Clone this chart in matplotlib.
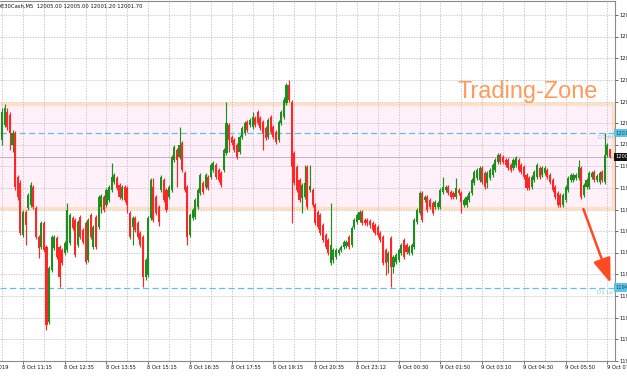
import matplotlib
matplotlib.use("Agg")
import matplotlib.pyplot as plt
import matplotlib.transforms as mtransforms
from matplotlib.patches import Rectangle
import numpy as np

# ---------------- data (DE30Cash, M5) ----------------
opens = [
12008.5,12014.5,12019.7,12018.5,12006.5,12011.3,11993.7,11991.3,11970.5,11979.7,
11981.3,11982.5,11989.7,11981.3,11969.7,11965.7,11975.3,11965.7,11935.7,11956.5,
11965.3,11969.3,11965.7,11964.5,11963.3,11964.5,11967.3,11977.3,11976.5,11966.5,
11977.7,11972.5,11975.3,11960.5,11978.5,11965.7,11977.7,11973.7,11981.7,11985.7,
11982.5,11984.5,11988.5,11991.7,11993.3,11990.5,11985.3,11989.7,11989.3,11979.3,
11973.7,11977.3,11975.3,11971.3,11969.7,11953.7,11954.5,11977.3,11989.7,11985.7,
11981.7,11988.5,11992.5,11988.5,11985.7,11988.5,12000.5,12004.5,12001.7,12007.3,
11995.3,11989.7,11970.5,11977.3,11977.7,11981.7,11987.3,11991.3,11989.7,11993.7,
11993.7,11996.5,11998.5,11996.5,11995.3,11996.5,12003.3,12014.5,12009.7,12008.5,
12006.5,12003.7,12009.7,12011.3,12015.7,12014.5,12013.7,12017.3,12019.7,12017.3,
12015.7,12013.3,12009.7,12017.7,12013.7,12011.7,12008.5,12015.3,12017.7,12023.3,
12030.5,12023.7,12003.3,11997.7,11992.5,11985.3,11985.7,11997.7,11988.5,11988.5,
11982.5,11979.7,11978.5,11974.5,11970.5,11968.5,11959.3,11960.5,11961.7,11963.3,
11964.5,11965.7,11966.1,11969.7,11966.5,11973.7,11975.7,11976.5,11979.7,11976.5,
11976.5,11976.1,11975.3,11974.5,11973.7,11971.3,11969.7,11964.5,11959.7,11969.3,
11957.7,11959.7,11960.5,11963.3,11968.5,11966.5,11963.3,11963.3,11965.7,11975.7,
11979.3,11987.3,11984.5,11985.7,11984.5,11983.3,11981.7,11981.7,11981.7,11987.7,
11988.5,11989.7,11987.7,11987.3,11985.7,11988.5,11987.3,11982.5,11982.5,11984.5,
11987.3,11991.3,11993.3,11992.5,11997.3,11995.3,11991.3,11993.3,11994.5,11996.5,
11999.7,12002.5,12001.7,12000.5,12000.5,11998.5,11997.3,11998.5,12000.5,11998.5,
11997.7,11994.5,11993.3,11989.7,11992.5,11993.7,11997.3,11994.5,11995.3,11996.5,
11994.5,11992.5,11989.7,11987.3,11986.5,11982.5,11984.5,11988.5,11992.5,11992.5,
11993.3,11993.3,11997.3,11986.5,11989.7,11989.7,11993.7,11995.7,11992.5,11991.7,
11995.7,11991.7,12002.5,12005.0]
highs = [
12021.3,12022.9,12021.3,12019.7,12012.5,12012.1,11994.5,11992.5,11980.5,11980.5,
11987.3,11991.7,11990.5,11982.1,11970.5,11976.1,11976.1,11966.5,11958.1,11970.5,
11970.5,11970.1,11966.5,11965.3,11968.1,11983.3,11979.3,11978.1,11977.3,11976.5,
11978.5,11973.3,11976.1,11977.3,11979.3,11974.5,11978.5,11986.5,11986.9,11986.5,
11989.3,11990.5,11999.3,11995.3,11994.1,11991.3,11990.5,11990.5,11990.1,11980.1,
11978.1,11978.1,11976.1,11972.1,11970.5,11961.3,11978.1,11993.3,11993.3,11986.5,
11982.5,11994.5,11993.3,11989.3,11990.5,12002.5,12006.5,12005.3,12013.7,12008.1,
11996.1,11990.5,11979.3,11981.3,11985.3,11989.3,11995.3,11992.1,11995.3,11994.5,
11999.3,12000.1,11999.3,11997.3,11996.1,12005.3,12023.7,12015.3,12010.5,12009.3,
12007.3,12010.5,12014.1,12016.1,12016.5,12017.3,12019.7,12018.1,12020.5,12018.1,
12016.5,12014.1,12017.3,12018.5,12014.5,12012.5,12016.5,12020.5,12025.7,12031.3,
12032.5,12024.5,12004.1,11998.5,11993.3,11991.3,11998.5,11998.5,11998.5,11989.3,
11983.3,11980.5,11979.3,11975.3,11971.3,11969.3,11983.3,11965.3,11965.3,11965.3,
11966.5,11968.5,11968.5,11970.5,11974.1,11977.3,11979.3,11980.5,11980.5,11977.3,
11977.3,11976.9,11976.1,11975.3,11974.5,11972.1,11970.5,11965.3,11964.1,11970.1,
11962.5,11963.3,11965.3,11967.3,11969.3,11967.3,11966.5,11967.3,11977.3,11981.3,
11988.1,11988.1,11986.5,11986.5,11985.3,11984.1,11984.5,11984.1,11989.3,11993.7,
11990.5,11990.5,11988.5,11988.1,11993.3,11989.3,11988.1,11985.3,11986.5,11988.1,
11993.3,11996.5,11997.3,11998.1,11998.1,11996.1,11996.1,11997.3,11999.3,12001.3,
12003.3,12003.3,12002.5,12001.3,12001.3,11999.3,12001.3,12002.1,12001.3,11999.3,
11998.5,11995.3,11994.1,11994.5,11996.5,11999.3,11998.1,11998.1,11998.1,11997.3,
11995.3,11993.3,11990.5,11988.1,11987.3,11987.3,11990.5,11994.1,11995.3,11995.3,
11995.3,12000.5,11998.1,11991.3,11993.3,11996.1,11996.1,11996.5,11994.9,11996.1,
11996.5,12011.3,12007.3,12005.0]
lows = [
12006.5,12013.7,12012.5,12004.5,12003.7,11988.5,11984.5,11970.5,11969.7,11966.5,
11980.5,11981.7,11980.9,11968.9,11961.3,11964.9,11963.7,11932.5,11934.9,11955.7,
11964.5,11960.9,11949.7,11958.5,11962.5,11963.7,11966.5,11972.5,11961.7,11965.7,
11968.9,11966.9,11958.9,11959.7,11968.9,11964.9,11964.9,11972.9,11979.3,11979.7,
11981.7,11983.7,11987.7,11990.9,11988.5,11984.9,11984.5,11983.7,11979.3,11968.9,
11966.5,11971.7,11968.9,11965.7,11949.7,11952.5,11953.7,11976.5,11975.7,11978.5,
11974.1,11987.7,11983.7,11979.7,11984.9,11987.7,11999.7,11989.7,12000.9,11995.7,
11987.7,11966.5,11969.7,11976.5,11976.9,11980.9,11986.5,11986.9,11988.9,11988.5,
11992.9,11995.7,11992.9,11991.7,11989.7,11995.7,12002.5,12003.7,12006.5,12003.7,
12000.9,12002.9,12008.9,12010.5,12011.7,12013.7,12012.9,12013.7,12014.5,12012.5,
12004.5,12008.5,12008.9,12010.9,12008.9,12006.9,12007.7,12014.5,12016.9,12022.5,
12023.7,11975.3,11990.5,11987.7,11983.7,11979.3,11984.9,11980.9,11987.7,11981.7,
11974.5,11972.9,11970.5,11967.7,11964.9,11962.5,11958.5,11959.3,11960.9,11962.5,
11963.7,11964.9,11965.3,11964.9,11965.7,11972.9,11974.9,11975.7,11974.5,11974.5,
11974.1,11973.3,11971.7,11970.5,11969.7,11967.7,11958.5,11954.5,11955.3,11949.7,
11955.3,11958.9,11959.7,11962.5,11960.9,11962.9,11962.5,11962.5,11964.9,11974.9,
11978.5,11975.7,11983.7,11979.7,11980.9,11978.5,11980.9,11980.9,11980.9,11986.9,
11987.7,11986.5,11984.9,11984.9,11984.9,11986.5,11979.3,11981.7,11981.7,11983.7,
11986.5,11990.5,11992.5,11991.7,11990.9,11988.9,11989.3,11992.5,11993.7,11995.7,
11998.9,11998.9,11998.9,11997.7,11996.5,11995.7,11996.5,11997.7,11995.7,11994.9,
11992.9,11988.5,11988.5,11988.9,11991.7,11992.9,11992.9,11993.7,11994.5,11992.9,
11990.9,11987.7,11984.9,11981.7,11981.7,11981.7,11983.7,11987.7,11991.7,11991.7,
11992.5,11992.5,11984.9,11985.7,11988.9,11988.9,11992.9,11991.7,11991.7,11990.9,
11991.7,11990.9,12001.7,12001.2]
closes = [
12019.7,12021.3,12013.7,12011.3,12011.3,11989.7,11985.7,11971.3,11979.7,11974.5,
11986.5,11990.5,11981.7,11969.7,11965.3,11975.3,11964.5,11934.5,11957.3,11969.7,
11969.7,11961.7,11953.7,11959.3,11967.3,11980.5,11978.5,11973.3,11962.5,11975.7,
11969.7,11967.7,11959.7,11976.5,11969.7,11973.7,11965.7,11985.7,11986.1,11980.5,
11988.5,11989.7,11993.7,11994.5,11989.3,11985.7,11989.7,11984.5,11982.5,11969.7,
11977.3,11972.5,11969.7,11966.5,11953.7,11960.5,11977.3,11992.5,11976.5,11979.3,
11975.7,11993.7,11984.5,11980.5,11989.7,12001.7,12005.7,12000.5,12006.5,11996.5,
11988.5,11969.7,11978.5,11980.5,11984.5,11988.5,11994.5,11987.7,11994.5,11989.3,
11998.5,11999.3,11993.7,11992.5,11990.5,12004.5,12015.3,12008.5,12007.3,12004.5,
12001.7,12009.7,12013.3,12015.3,12012.5,12016.5,12017.7,12014.5,12015.3,12013.3,
12011.3,12009.3,12016.5,12011.7,12009.7,12007.7,12015.7,12019.7,12024.5,12030.5,
12024.5,11997.7,11991.3,11988.5,11984.5,11990.5,11991.3,11981.7,11990.1,11982.5,
11975.3,11973.7,11971.3,11968.5,11965.7,11963.3,11966.5,11964.5,11964.5,11964.5,
11965.7,11967.7,11967.7,11965.7,11973.3,11976.5,11978.5,11979.7,11975.3,11975.3,
11975.3,11974.5,11972.5,11971.3,11970.5,11968.5,11959.3,11959.3,11963.3,11957.7,
11961.7,11962.5,11964.5,11966.5,11961.7,11963.7,11965.7,11966.5,11976.5,11980.5,
11987.3,11976.5,11985.7,11980.5,11981.7,11979.3,11983.7,11983.3,11988.5,11989.7,
11989.7,11987.3,11985.7,11985.7,11989.3,11987.3,11983.7,11984.5,11985.7,11987.3,
11992.5,11995.7,11996.5,11997.3,11991.7,11989.7,11995.3,11996.5,11998.5,12000.5,
12002.5,11999.7,11999.7,11998.5,11997.3,11996.5,12000.5,12001.3,11996.5,11995.7,
11993.7,11989.3,11989.3,11993.7,11995.7,11998.5,11993.7,11997.3,11997.3,11993.7,
11991.7,11988.5,11985.7,11982.5,11982.5,11986.5,11989.7,11993.3,11994.5,11994.5,
11994.5,11997.7,11985.7,11990.5,11992.5,11995.3,11995.3,11992.5,11994.1,11995.3,
11992.5,12002.5,12006.5,12001.7]

header = "DE30Cash,M5  12005.00 12005.00 12001.20 12001.70"
time_label_bars = [-8, 8, 24, 40, 56, 72, 88, 104, 120, 136, 152, 168, 184, 200, 216, 232]
time_labels = ["8 Oct 2019", "8 Oct 11:15", "8 Oct 12:35", "8 Oct 13:55", "8 Oct 15:15",
               "8 Oct 16:35", "8 Oct 17:55", "8 Oct 19:15", "8 Oct 20:35", "8 Oct 23:12",
               "9 Oct 00:30", "9 Oct 01:50", "9 Oct 03:10", "9 Oct 04:30", "9 Oct 05:50",
               "9 Oct 07:10"]
price_ticks = [12058.5, 12049.9, 12041.2, 12032.6, 12023.9, 12015.3, 12006.7, 11998.0,
               11989.4, 11980.7, 11972.1, 11963.5, 11954.8, 11946.2, 11937.5, 11928.9, 11920.2]
zone_top, zone_bottom = 12022.9, 11981.5
d1_high, d1_low = 12011.2, 11949.5
bid = 12001.7
zone_label = "Trading-Zone"
arrow_start = (222.8, 11980.9)
arrow_end = (233.2, 11951.3)

# ---------------- figure ----------------
W, H = 627, 376
fig = plt.figure(figsize=(W / 100, H / 100), dpi=100)
fig.patch.set_facecolor("white")
ax = fig.add_axes([0, 15 / H, 614.5 / W, 360 / H])
ax.set_facecolor("white")

o = np.array(opens); h = np.array(highs); l = np.array(lows); c = np.array(closes)
n = len(o)
x = np.arange(n)
ax.set_xlim(-0.806, 234.72)
ax.set_ylim(11920.1, 12064.1)

small = dict(family="DejaVu Sans", size=3.7)

# grid
for gx in range(0, n, 8):
    ax.axvline(gx, color="#c0c0c0", lw=0.6, ls=(0, (1.6, 1.6)), zorder=1)
for gy in price_ticks:
    ax.axhline(gy, color="#c0c0c0", lw=0.6, ls=(0, (1.6, 1.6)), zorder=1)

# trading zone
ax.add_patch(Rectangle((-5, zone_bottom), 234.3 + 5, zone_top - zone_bottom,
                       facecolor="#fff0fa", edgecolor="#ffe0c2", lw=2.3, zorder=0.5))

# bid line and D1 lines
ax.axhline(bid, color="#c6aec6", lw=0.7, zorder=1.5)
for lev in (d1_high, d1_low):
    ax.axhline(lev, color="#62c0e6", lw=0.9, ls=(0, (5, 2.6)), zorder=1.6)
ax.text(234.2, d1_high - 0.9, "D1 Hi", ha="right", va="top", color="#7cc8e8",
        family="DejaVu Sans", size=4.0, zorder=5)
ax.text(234.2, d1_low - 0.9, "D1 Lo", ha="right", va="top", color="#7cc8e8",
        family="DejaVu Sans", size=4.0, zorder=5)

# candles
up = c >= o
col = np.where(up, "#1e8e1e", "#ff2626")
ax.vlines(x, l, h, colors=col, lw=0.85, zorder=3)
body_lo = np.minimum(o, c)
body_h = np.maximum(np.abs(c - o), 0.4)
ax.bar(x, body_h, bottom=body_lo, width=0.8, color=col, linewidth=0, zorder=4)

# zone label and arrow
ax.text(174.5, 12025.2, zone_label, color="#ff9a5c", family="Liberation Sans",
        size=16.9, va="baseline", ha="left", zorder=6)
ax.annotate("", xy=arrow_end, xytext=arrow_start,
            arrowprops=dict(arrowstyle="-|>,head_length=1.25,head_width=0.45",
                            color="#ff4a22", lw=1.8, mutation_scale=12, shrinkA=0, shrinkB=0),
            zorder=6)

# spines
ax.spines["left"].set_visible(False)
for s in ("right", "bottom", "top"):
    ax.spines[s].set_color("#8a8a8a")
    ax.spines[s].set_linewidth(0.8)

# y axis on right
ax.yaxis.tick_right()
ax.set_yticks(price_ticks)
ax.set_yticklabels([f"{v:.2f}" for v in price_ticks])
ax.tick_params(axis="y", direction="out", length=2, width=0.6, color="#555555",
               pad=1.6, labelsize=3.7, labelcolor="#111111")
for t in ax.get_yticklabels():
    t.set_family("DejaVu Sans")

# x axis ticks
vis_bars = [b for b in time_label_bars if b >= 0]
ax.set_xticks(vis_bars)
ax.set_xticklabels([""] * len(vis_bars))
ax.tick_params(axis="x", direction="out", length=2.2, width=0.6, color="#555555")
trans_x = mtransforms.blended_transform_factory(ax.transData, ax.transAxes)
for b, lab in zip(time_label_bars, time_labels):
    ax.text(b - 0.3, -0.018, lab, transform=trans_x, ha="left", va="center",
            color="#111111", clip_on=False, **small)

# right-side price boxes
trans_y = mtransforms.blended_transform_factory(ax.transAxes, ax.transData)
ax.text(1.002, d1_high, f"{d1_high:.2f}", transform=trans_y, ha="left", va="center",
        color="#1d4f66", clip_on=False, family="DejaVu Sans", size=3.7,
        bbox=dict(boxstyle="square,pad=0.3", fc="#5ec4e6", ec="none"), zorder=7)
ax.text(1.002, d1_low, f"{d1_low:.2f}", transform=trans_y, ha="left", va="center",
        color="#1d4f66", clip_on=False, family="DejaVu Sans", size=3.7,
        bbox=dict(boxstyle="square,pad=0.3", fc="#5ec4e6", ec="none"), zorder=7)
ax.text(1.002, bid, f"{bid:.2f}", transform=trans_y, ha="left", va="center",
        color="white", clip_on=False, family="DejaVu Sans", size=3.7,
        bbox=dict(boxstyle="square,pad=0.3", fc="#111111", ec="none"), zorder=7)

# header
ax.text(-3 / 614.5, 0.985, header, transform=ax.transAxes, ha="left", va="center",
        color="#111111", clip_on=False, family="DejaVu Sans", size=3.8, zorder=8)

fig.savefig("out.png", dpi=100)
